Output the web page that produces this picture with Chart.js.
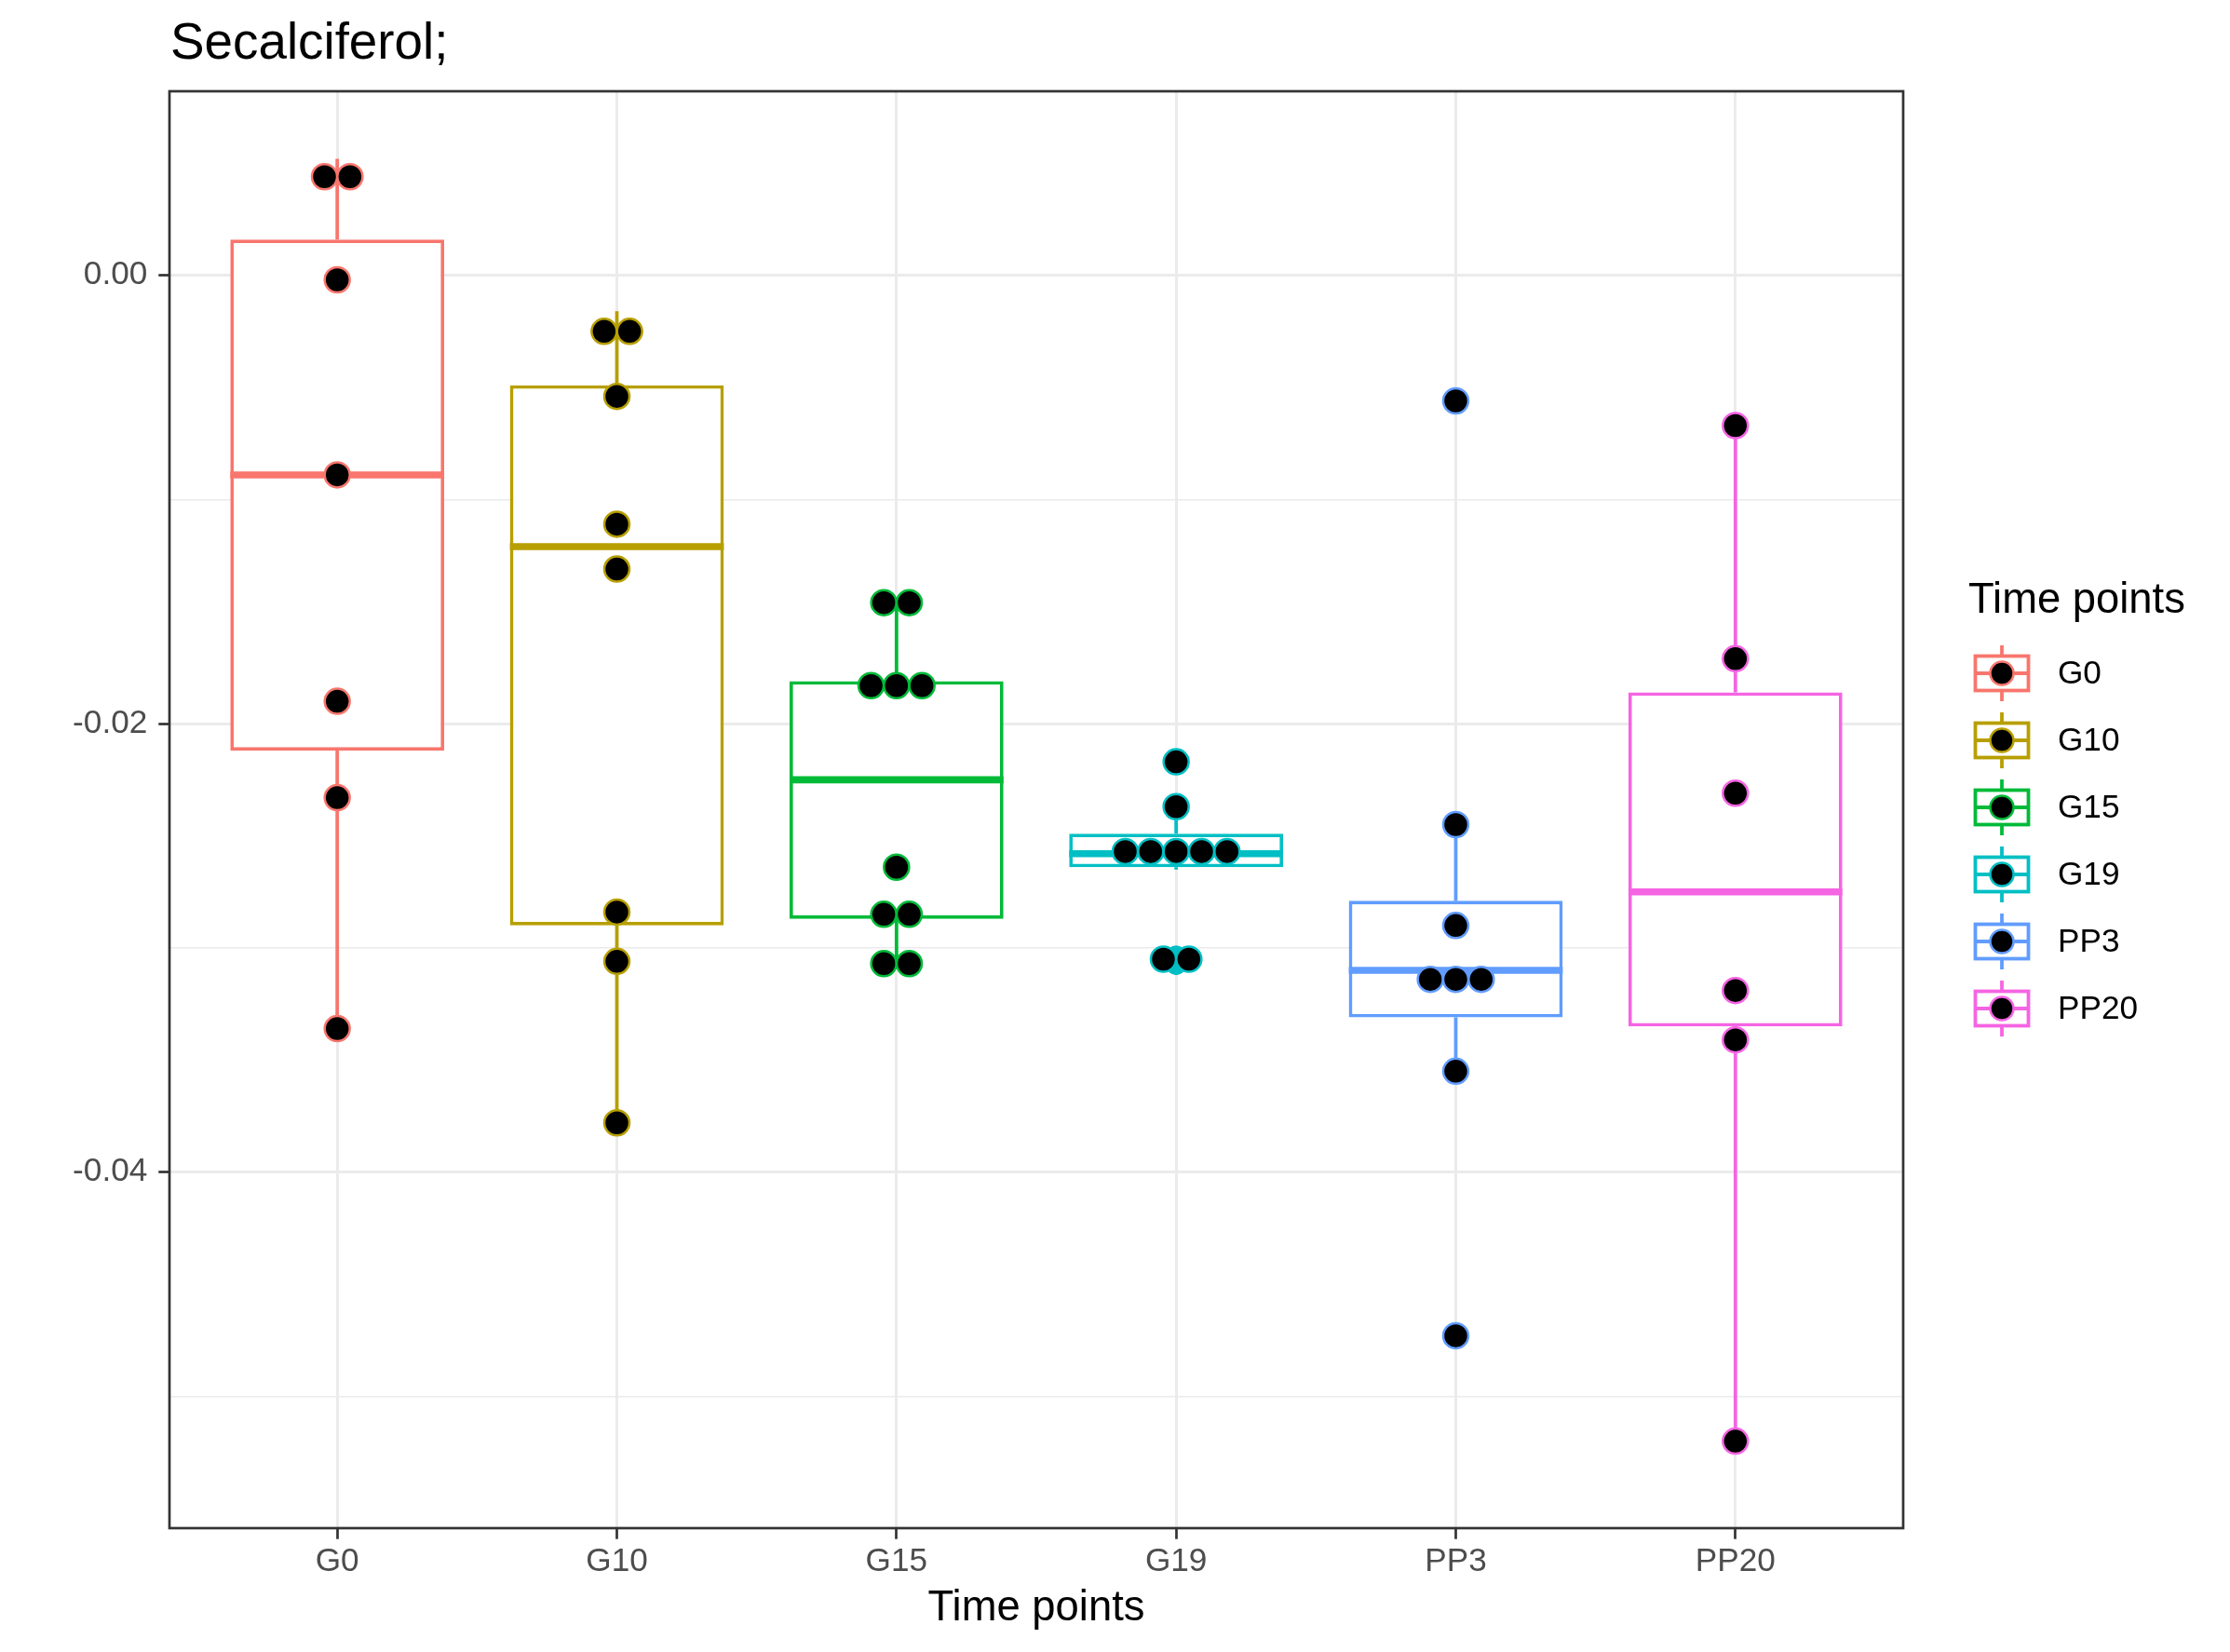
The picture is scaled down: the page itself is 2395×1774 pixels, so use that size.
<!DOCTYPE html>
<html>
<head>
<meta charset="utf-8">
<script src="https://cdn.jsdelivr.net/npm/chart.js@4.4.1/dist/chart.umd.min.js"></script>
<style>
  html, body { margin: 0; padding: 0; background: #fff; }
  #wrap { width: 2395px; height: 1774px; }
</style>
</head>
<body>
<div id="wrap"><canvas id="secalciferol-chart" width="2395" height="1774"></canvas></div>
<script>
// groups + ggplot default hue colours
const categories = ['G0', 'G10', 'G15', 'G19', 'PP3', 'PP20'];
const groupColors = ['#F8766D', '#B79F00', '#00BA38', '#00BFC4', '#619CFF', '#F564E3'];

// box stats as drawn
const q1Values     = [-0.0212, -0.0290, -0.0287, -0.0264, -0.0331, -0.0335];
const medianValues = [-0.0089, -0.0121, -0.0225, -0.0258, -0.0310, -0.0275];
const q3Values     = [ 0.0016, -0.0049, -0.0181, -0.0249, -0.0279, -0.0186];
const whiskerLow   = [-0.0335, -0.0378, -0.0307, -0.0265, -0.0355, -0.0520];
const whiskerHigh  = [ 0.0052, -0.0016, -0.0146, -0.0242, -0.0245, -0.0067];

// dotplot values (binned positions)
const dotsG0   = [0.0044, 0.0044, -0.0002, -0.0089, -0.0190, -0.0233, -0.0336];
const dotsG10  = [-0.0025, -0.0025, -0.0054, -0.0111, -0.0131, -0.0284, -0.0306, -0.0378];
const dotsG15  = [-0.0146, -0.0146, -0.0183, -0.0183, -0.0183, -0.0264, -0.0285, -0.0285, -0.0307, -0.0307];
const dotsG19  = [-0.0217, -0.0237, -0.0257, -0.0257, -0.0257, -0.0257, -0.0257, -0.0305, -0.0305];
const dotsPP3  = [-0.0056, -0.0245, -0.0290, -0.0314, -0.0314, -0.0314, -0.0355, -0.0473];
const dotsPP20 = [-0.0067, -0.0171, -0.0231, -0.0319, -0.0341, -0.0520];
const dotValues = [dotsG0, dotsG10, dotsG15, dotsG19, dotsPP3, dotsPP20];

// boxplot outlier points (mostly hidden under the dots)
const outliersG19 = [-0.0217, -0.0303, -0.0308];
const outliersPP3 = [-0.0056, -0.0473];
const outlierValues = [[], [], [], outliersG19, outliersPP3, []];

// y axis
const yTickValues = [-0.04, -0.02, 0.00];
const yMinorValues = [-0.05, -0.03, -0.01];
const yMin = -0.05588, yMax = 0.00821;

const FONT = 'Liberation Sans';
const BOX_WIDTH = 0.765;
const BOX_HALF = BOX_WIDTH / 2;
const DOT_STEP = 0.091;
const LW = 3.8;

// centre-stack dots that share a bin
function stackDots(values, i) {
  const counts = {}, seen = {};
  values.forEach(v => counts[v] = (counts[v] || 0) + 1);
  return values.map(v => {
    seen[v] = seen[v] === undefined ? 0 : seen[v] + 1;
    return {x: i + (seen[v] - (counts[v] - 1) / 2) * DOT_STEP, y: v};
  });
}

const datasets = [];
dotValues.forEach((vals, i) => {
  datasets.push({
    type: 'scatter', data: stackDots(vals, i), order: 0,
    pointRadius: 13.5, pointBorderWidth: 2.5,
    pointBackgroundColor: '#000000', pointBorderColor: groupColors[i]
  });
});
outlierValues.forEach((vals, i) => {
  if (!vals.length) return;
  datasets.push({
    type: 'scatter', data: vals.map(v => ({x: i, y: v})), order: 1,
    pointRadius: 10, pointBorderWidth: 0, pointBackgroundColor: groupColors[i]
  });
});
categories.forEach((c, i) => {
  const line = {type: 'scatter', showLine: true, pointRadius: 0, borderColor: groupColors[i], borderCapStyle: 'butt'};
  datasets.push(Object.assign({}, line, {order: 2, borderWidth: LW * 2,
    data: [{x: i - BOX_HALF, y: medianValues[i]}, {x: i + BOX_HALF, y: medianValues[i]}]}));
  datasets.push(Object.assign({}, line, {order: 3, borderWidth: LW,
    data: [{x: i, y: q3Values[i]}, {x: i, y: whiskerHigh[i]}]}));
  datasets.push(Object.assign({}, line, {order: 3, borderWidth: LW,
    data: [{x: i, y: q1Values[i]}, {x: i, y: whiskerLow[i]}]}));
});
datasets.push({
  type: 'bar', order: 4,
  data: categories.map((c, i) => ({x: i, y: [q1Values[i], q3Values[i]]})),
  backgroundColor: '#FFFFFF', borderColor: groupColors, borderWidth: LW,
  borderSkipped: false, barPercentage: 1, categoryPercentage: BOX_WIDTH
});

const ggDecor = {
  id: 'ggDecor',
  beforeDraw(chart) {
    const ctx = chart.ctx;
    ctx.save();
    ctx.fillStyle = '#FFFFFF';
    ctx.fillRect(0, 0, chart.width, chart.height);
    ctx.restore();
  },
  afterDatasetsDraw(chart) {
    const ctx = chart.ctx, a = chart.chartArea;
    ctx.save();
    ctx.strokeStyle = '#333333';
    ctx.lineWidth = 2.7;
    ctx.strokeRect(a.left, a.top, a.right - a.left, a.bottom - a.top);
    ctx.restore();
  },
  afterDraw(chart) {
    const ctx = chart.ctx, a = chart.chartArea;
    ctx.save();
    // title
    ctx.fillStyle = '#000000';
    ctx.font = '54.8px "' + FONT + '"';
    ctx.textBaseline = 'alphabetic';
    ctx.textAlign = 'left';
    ctx.fillText('Secalciferol;', a.left + 1, 63);
    // legend
    const kx = a.right + 106;
    ctx.font = '45.4px "' + FONT + '"';
    ctx.textBaseline = 'middle';
    ctx.fillText('Time points', a.right + 70, 645);
    categories.forEach((c, i) => {
      const cy = 723 + i * 72;
      ctx.strokeStyle = groupColors[i];
      ctx.lineWidth = LW;
      ctx.beginPath();
      ctx.moveTo(kx, cy - 30); ctx.lineTo(kx, cy + 30);
      ctx.stroke();
      ctx.fillStyle = '#FFFFFF';
      ctx.fillRect(kx - 28.5, cy - 18.5, 57, 37);
      ctx.strokeRect(kx - 28.5, cy - 18.5, 57, 37);
      ctx.beginPath();
      ctx.moveTo(kx - 28.5, cy); ctx.lineTo(kx + 28.5, cy);
      ctx.stroke();
      ctx.beginPath();
      ctx.arc(kx, cy, 12.5, 0, Math.PI * 2);
      ctx.fillStyle = '#000000';
      ctx.fill();
      ctx.lineWidth = 2.5;
      ctx.stroke();
      ctx.fillStyle = '#000000';
      ctx.font = '35.2px "' + FONT + '"';
      ctx.fillText(c, a.right + 166, cy + 1);
    });
    ctx.restore();
  }
};

Chart.defaults.font.family = FONT;

new Chart(document.getElementById('secalciferol-chart'), {
  type: 'scatter',
  data: {datasets: datasets},
  plugins: [ggDecor],
  options: {
    responsive: false,
    animation: false,
    devicePixelRatio: 1,
    events: [],
    layout: {padding: {top: 98, right: 351, bottom: 0, left: 0}},
    plugins: {legend: {display: false}, tooltip: {enabled: false}, title: {display: false}},
    scales: {
      x: {
        type: 'linear', min: -0.6, max: 5.6, offset: false,
        afterBuildTicks: s => { s.ticks = categories.map((c, i) => ({value: i})); },
        afterFit: s => { s.height = 133; },
        ticks: {
          autoSkip: false, maxRotation: 0, padding: 3, color: '#4D4D4D',
          font: {family: FONT, size: 35.2},
          callback: v => categories[v]
        },
        grid: {offset: false, color: '#EBEBEB', lineWidth: 3, drawTicks: true, tickLength: 11.7, tickWidth: 2.7, tickColor: '#333333'},
        border: {display: false},
        title: {display: true, text: 'Time points', color: '#000000',
                font: {family: FONT, size: 45.4}, padding: {top: 0, bottom: 19}}
      },
      y: {
        type: 'linear', min: yMin, max: yMax,
        afterBuildTicks: s => { s.ticks = yMinorValues.concat(yTickValues).sort((p, q) => p - q).map(v => ({value: v})); },
        afterFit: s => { s.width = 182; },
        ticks: {
          autoSkip: false, padding: 12, color: '#4D4D4D',
          font: {family: FONT, size: 35.2},
          callback: v => yTickValues.includes(v) ? v.toFixed(2) : ''
        },
        grid: {
          offset: false,
          color: '#EBEBEB',
          lineWidth: c => (c.tick && yTickValues.includes(c.tick.value)) ? 3 : 1.6,
          tickColor: c => (c.tick && yTickValues.includes(c.tick.value)) ? '#333333' : 'rgba(0,0,0,0)',
          drawTicks: true, tickLength: 11.7, tickWidth: 2.7
        },
        border: {display: false}
      }
    }
  }
});
</script>
</body>
</html>
